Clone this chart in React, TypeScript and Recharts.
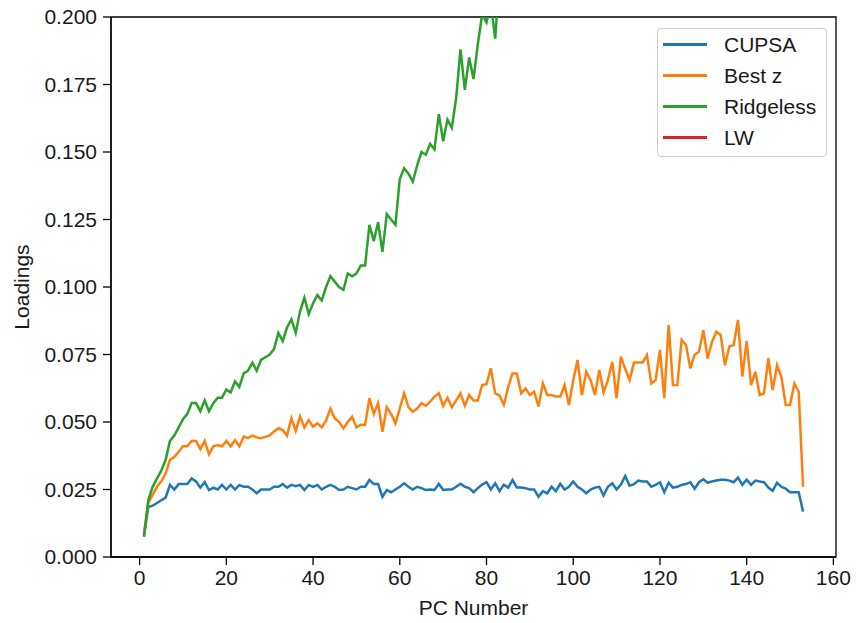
import React from 'react';
import { LineChart, Line, XAxis, YAxis, Legend, ReferenceArea } from 'recharts';

// loadings per principal component (PC 1..153)
const CUPSA = [
  0.0075, 0.0185, 0.019, 0.02, 0.021, 0.022, 0.0267, 0.025, 0.027, 0.027,
  0.027, 0.0291, 0.028, 0.0257, 0.0278, 0.0248, 0.0257, 0.025, 0.0267, 0.025,
  0.0267, 0.025, 0.0267, 0.026, 0.026, 0.025, 0.0236, 0.025, 0.025, 0.025,
  0.026, 0.026, 0.027, 0.0257, 0.0267, 0.0262, 0.0267, 0.0248, 0.0267, 0.026,
  0.0267, 0.025, 0.026, 0.0267, 0.026, 0.0248, 0.025, 0.026, 0.0255, 0.025,
  0.026, 0.026, 0.0285, 0.027, 0.027, 0.0223, 0.0248, 0.024, 0.025, 0.026,
  0.0273, 0.026, 0.025, 0.026, 0.0255, 0.0248, 0.025, 0.0248, 0.0271, 0.0248,
  0.025, 0.025, 0.026, 0.0271, 0.026, 0.0255, 0.024, 0.0255, 0.0268, 0.0277,
  0.025, 0.0273, 0.0244, 0.0268, 0.0257, 0.0285, 0.0257, 0.0257, 0.0255, 0.025,
  0.025, 0.0223, 0.0244, 0.0236, 0.026, 0.0244, 0.0271, 0.025, 0.026, 0.028,
  0.026, 0.025, 0.0236, 0.025, 0.0257, 0.026, 0.0228, 0.026, 0.0273, 0.025,
  0.0268, 0.03, 0.0264, 0.027, 0.0283, 0.028, 0.028, 0.026, 0.0267, 0.0277,
  0.024, 0.0275, 0.0257, 0.026, 0.0267, 0.027, 0.0277, 0.0253, 0.0277, 0.0288,
  0.0275, 0.028, 0.0283, 0.0286, 0.0286, 0.0283, 0.0277, 0.0294, 0.0267, 0.0286,
  0.0267, 0.0283, 0.028, 0.0277, 0.0257, 0.0245, 0.0275, 0.026, 0.0253, 0.024,
  0.024, 0.024, 0.0168,
];

const BEST_Z = [
  0.008, 0.02, 0.023, 0.026, 0.028, 0.031, 0.036, 0.037, 0.039, 0.041,
  0.041, 0.043, 0.043, 0.04, 0.043, 0.038, 0.041, 0.0415, 0.041, 0.043,
  0.041, 0.0433, 0.041, 0.0446, 0.044, 0.045, 0.0443, 0.044, 0.0445, 0.045,
  0.0465, 0.0477, 0.047, 0.045, 0.0514, 0.0467, 0.052, 0.048, 0.0507, 0.0483,
  0.0495, 0.048, 0.0505, 0.055, 0.0514, 0.05, 0.0477, 0.05, 0.052, 0.048,
  0.049, 0.049, 0.0588, 0.053, 0.057, 0.0464, 0.0555, 0.053, 0.0495, 0.055,
  0.0606, 0.0555, 0.0538, 0.055, 0.057, 0.056, 0.0575, 0.0594, 0.0606, 0.056,
  0.059, 0.0555, 0.058, 0.0606, 0.056, 0.06, 0.058, 0.058, 0.0637, 0.064,
  0.0699, 0.0606, 0.0598, 0.0563, 0.063, 0.068, 0.068, 0.0606, 0.0624, 0.06,
  0.0612, 0.0557, 0.0643, 0.06, 0.06, 0.0594, 0.0594, 0.0637, 0.0563, 0.0655,
  0.073, 0.06, 0.0686, 0.0655, 0.06, 0.0693, 0.061, 0.0655, 0.0723, 0.0588,
  0.0742, 0.0696, 0.0655, 0.072, 0.072, 0.072, 0.0748, 0.0643, 0.0655, 0.0767,
  0.0588, 0.0859, 0.0637, 0.0637, 0.0804, 0.0785, 0.0699, 0.075, 0.076, 0.084,
  0.0735, 0.0797, 0.0834, 0.0822, 0.071, 0.078, 0.0785, 0.0878, 0.0668, 0.08,
  0.0637, 0.0686, 0.06, 0.0606, 0.0736, 0.0618, 0.071, 0.0667, 0.0563, 0.0563,
  0.0643, 0.0612, 0.026,
];

// runs off the top of the axes after PC ~82
const RIDGELESS = [
  0.008, 0.021, 0.026, 0.029, 0.032, 0.036, 0.043, 0.045, 0.048, 0.051,
  0.053, 0.057, 0.057, 0.054, 0.058, 0.054, 0.057, 0.059, 0.059, 0.062,
  0.061, 0.065, 0.063, 0.068, 0.069, 0.072, 0.069, 0.073, 0.074, 0.075,
  0.077, 0.083, 0.08, 0.085, 0.088, 0.083, 0.091, 0.096, 0.09, 0.094,
  0.097, 0.095, 0.1, 0.104, 0.102, 0.1, 0.099, 0.105, 0.104, 0.105,
  0.108, 0.108, 0.123, 0.117, 0.124, 0.113, 0.127, 0.125, 0.123, 0.14,
  0.144, 0.142, 0.139, 0.145, 0.15, 0.149, 0.153, 0.151, 0.164, 0.154,
  0.162, 0.159, 0.17, 0.188, 0.173, 0.185, 0.177, 0.19, 0.201, 0.198,
  0.205, 0.192, 0.215, 0.22,
];

// LW has no visible points inside the axes
const LW: number[] = [];

const SERIES_ORDER = ['CUPSA', 'Best z', 'Ridgeless', 'LW'];
const X_TICKS = [0, 20, 40, 60, 80, 100, 120, 140, 160];
const Y_TICKS = [0, 0.025, 0.05, 0.075, 0.1, 0.125, 0.15, 0.175, 0.2];
const X_DOMAIN = [-6.6, 160.6];
const Y_DOMAIN = [0, 0.2];

const data = CUPSA.map((v, i) => ({
  pc: i + 1,
  cupsa: v,
  bestz: BEST_Z[i],
  ridgeless: i < RIDGELESS.length ? RIDGELESS[i] : null,
  lw: i < LW.length ? LW[i] : null,
}));

const FONT = '"Liberation Sans", Arial, sans-serif';
const tickStyle = { fill: '#1a1a1a', fontSize: 21, fontFamily: FONT };

const renderLegend = (props: any) => {
  const payload = [...(props.payload || [])].sort(
    (a: any, b: any) => SERIES_ORDER.indexOf(a.value) - SERIES_ORDER.indexOf(b.value)
  );
  return (
    <div
      style={{
        border: '1px solid #cfcfcf',
        borderRadius: 4,
        background: 'rgba(255,255,255,0.85)',
        paddingBottom: 3,
        fontFamily: FONT,
        fontSize: 21,
        color: '#1a1a1a',
      }}
    >
      {payload.map((entry: any) => (
        <div key={entry.value} style={{ height: 31, display: 'flex', alignItems: 'center' }}>
          <div style={{ width: 44, height: 3, marginLeft: 5, background: entry.color }} />
          <span style={{ marginLeft: 17 }}>{entry.value}</span>
        </div>
      ))}
    </div>
  );
};

export default function App() {
  return (
    <div style={{ position: 'absolute', left: 0, top: 0, background: '#fff' }}>
      <LineChart width={856} height={623} data={data} margin={{ top: 17, right: 20, left: 20, bottom: 0 }}>
        <XAxis
          dataKey="pc"
          type="number"
          domain={X_DOMAIN}
          ticks={X_TICKS}
          allowDataOverflow
          height={66}
          tickSize={8}
          tickMargin={5}
          stroke="#000"
          strokeWidth={1.3}
          tick={tickStyle}
          label={{ value: 'PC Number', position: 'insideBottom', offset: 8, fill: '#1a1a1a', fontSize: 21, fontFamily: FONT }}
        />
        <YAxis
          type="number"
          domain={Y_DOMAIN}
          ticks={Y_TICKS}
          allowDataOverflow
          width={91}
          tickSize={8}
          tickMargin={6}
          stroke="#000"
          strokeWidth={1.3}
          tick={tickStyle}
          tickFormatter={(v: number) => v.toFixed(3)}
          label={{ value: 'Loadings', angle: -90, position: 'insideLeft', offset: 2, fill: '#1a1a1a', fontSize: 21, fontFamily: FONT, style: { textAnchor: 'middle' } }}
        />
        <ReferenceArea
          x1={X_DOMAIN[0]}
          x2={X_DOMAIN[1]}
          y1={Y_DOMAIN[0]}
          y2={Y_DOMAIN[1]}
          fill="none"
          fillOpacity={0}
          stroke="#000"
          strokeWidth={1.3}
        />
        <Legend
          layout="vertical"
          align="center"
          verticalAlign="middle"
          content={renderLegend}
          wrapperStyle={{ position: 'absolute', top: 28, left: 657, width: 170, height: 'auto' }}
        />
        <Line name="CUPSA" dataKey="cupsa" stroke="#1f77b4" strokeWidth={2.5} dot={false} isAnimationActive={false} />
        <Line name="Best z" dataKey="bestz" stroke="#ff7f0e" strokeWidth={2.5} dot={false} isAnimationActive={false} />
        <Line name="Ridgeless" dataKey="ridgeless" stroke="#2ca02c" strokeWidth={2.5} dot={false} isAnimationActive={false} />
        <Line name="LW" dataKey="lw" stroke="#d62728" strokeWidth={2.5} dot={false} isAnimationActive={false} />
      </LineChart>
    </div>
  );
}
